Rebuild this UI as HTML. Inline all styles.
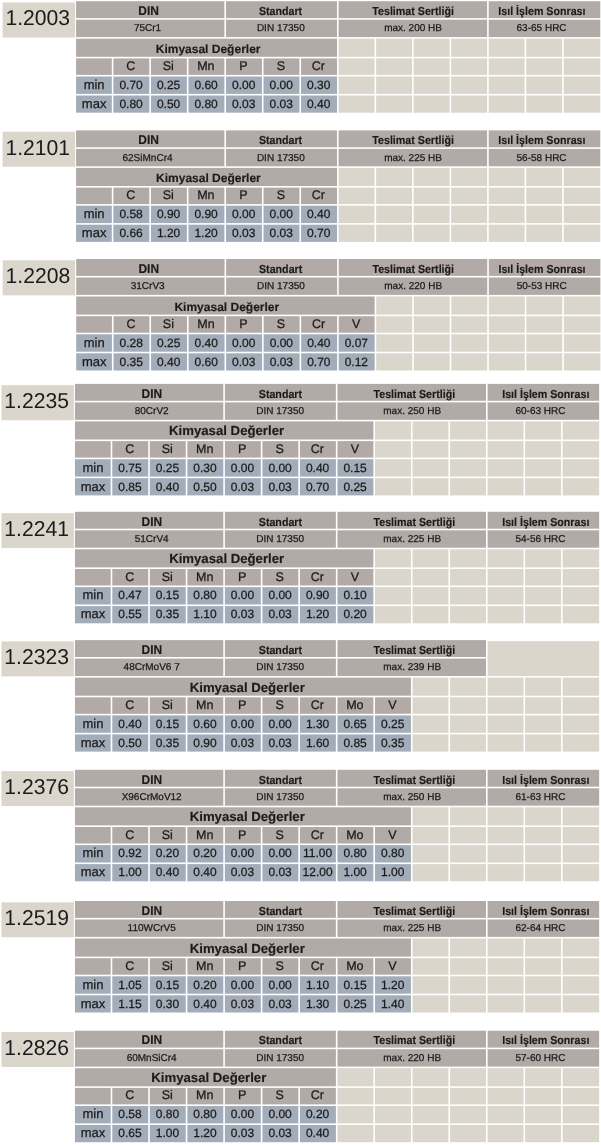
<!DOCTYPE html>
<html><head><meta charset="utf-8"><title>Çelik Tablosu</title>
<style>
html,body{margin:0;padding:0;background:#fff;width:601px;height:1145px;overflow:hidden}
svg{display:block;font-family:"Liberation Sans", sans-serif;text-rendering:geometricPrecision;will-change:transform}
text{stroke:#1c1a1a;stroke-width:0.25px}
text[font-weight=bold]{stroke-width:0.15px}
text.n{stroke-width:0.0px}
</style></head><body>
<svg width="601" height="1145" viewBox="0 0 601 1145">
<rect x="2.57" y="2.50" width="72.40" height="35.00" fill="#dad6cc"/>
<text transform="translate(37.77 25.35) scale(0.979 1)" font-size="21.6" class="n" text-anchor="middle" fill="#1c1a1a">1.2003</text>
<rect x="76.07" y="1.20" width="148.32" height="16.90" fill="#b2aaa7"/>
<rect x="76.07" y="19.70" width="148.32" height="17.40" fill="#b2aaa7"/>
<text transform="translate(148.63 14.90) scale(0.95 1)" font-size="12.6" font-weight="bold" text-anchor="middle" fill="#1c1a1a">DIN</text>
<text x="147.53" y="31.40" font-size="10" text-anchor="middle" fill="#1c1a1a">75Cr1</text>
<rect x="225.99" y="1.20" width="110.99" height="16.90" fill="#b2aaa7"/>
<rect x="225.99" y="19.70" width="110.99" height="17.40" fill="#b2aaa7"/>
<text transform="translate(280.51 14.90) scale(0.92 1)" font-size="11.6" font-weight="bold" text-anchor="middle" fill="#1c1a1a">Standart</text>
<text x="280.81" y="31.40" font-size="10" text-anchor="middle" fill="#1c1a1a">DIN 17350</text>
<rect x="338.58" y="1.20" width="148.52" height="16.90" fill="#b2aaa7"/>
<rect x="338.58" y="19.70" width="148.52" height="17.40" fill="#b2aaa7"/>
<text transform="translate(413.12 14.90) scale(0.92 1)" font-size="11.6" font-weight="bold" text-anchor="middle" fill="#1c1a1a">Teslimat Sertliği</text>
<text x="413.04" y="31.40" font-size="10" text-anchor="middle" fill="#1c1a1a">max. 200 HB</text>
<rect x="488.70" y="1.20" width="111.56" height="16.90" fill="#b2aaa7"/>
<rect x="488.70" y="19.70" width="111.56" height="17.40" fill="#b2aaa7"/>
<text transform="translate(541.88 14.90) scale(0.92 1)" font-size="11.6" font-weight="bold" text-anchor="middle" fill="#1c1a1a">Isıl İşlem Sonrası</text>
<text x="541.58" y="31.40" font-size="10" text-anchor="middle" fill="#1c1a1a">63-65 HRC</text>
<rect x="76.07" y="38.70" width="260.91" height="18.10" fill="#b2aaa7"/>
<text x="208.12" y="52.70" font-size="12" font-weight="bold" text-anchor="middle" fill="#1c1a1a">Kimyasal Değerler</text>
<rect x="76.07" y="58.40" width="35.73" height="16.50" fill="#b2aaa7"/>
<rect x="113.40" y="58.40" width="35.93" height="16.50" fill="#b2aaa7"/>
<text x="130.76" y="69.90" font-size="12.5" text-anchor="middle" fill="#1c1a1a">C</text>
<rect x="150.93" y="58.40" width="35.93" height="16.50" fill="#b2aaa7"/>
<text x="168.29" y="69.90" font-size="12.5" text-anchor="middle" fill="#1c1a1a">Si</text>
<rect x="188.46" y="58.40" width="35.93" height="16.50" fill="#b2aaa7"/>
<text x="205.83" y="69.90" font-size="12.5" text-anchor="middle" fill="#1c1a1a">Mn</text>
<rect x="225.99" y="58.40" width="35.93" height="16.50" fill="#b2aaa7"/>
<text x="243.36" y="69.90" font-size="12.5" text-anchor="middle" fill="#1c1a1a">P</text>
<rect x="263.52" y="58.40" width="35.93" height="16.50" fill="#b2aaa7"/>
<text x="280.88" y="69.90" font-size="12.5" text-anchor="middle" fill="#1c1a1a">S</text>
<rect x="301.05" y="58.40" width="35.93" height="16.50" fill="#b2aaa7"/>
<text x="318.41" y="69.90" font-size="12.5" text-anchor="middle" fill="#1c1a1a">Cr</text>
<rect x="76.07" y="76.50" width="35.73" height="17.40" fill="#a2adb9"/>
<text x="94.14" y="88.80" font-size="13" text-anchor="middle" fill="#1c1a1a">min</text>
<rect x="113.40" y="76.50" width="35.93" height="17.40" fill="#a2adb9"/>
<text x="131.06" y="88.80" font-size="12.0" text-anchor="middle" fill="#1c1a1a">0.70</text>
<rect x="150.93" y="76.50" width="35.93" height="17.40" fill="#a2adb9"/>
<text x="168.59" y="88.80" font-size="12.0" text-anchor="middle" fill="#1c1a1a">0.25</text>
<rect x="188.46" y="76.50" width="35.93" height="17.40" fill="#a2adb9"/>
<text x="206.12" y="88.80" font-size="12.0" text-anchor="middle" fill="#1c1a1a">0.60</text>
<rect x="225.99" y="76.50" width="35.93" height="17.40" fill="#a2adb9"/>
<text x="243.66" y="88.80" font-size="12.0" text-anchor="middle" fill="#1c1a1a">0.00</text>
<rect x="263.52" y="76.50" width="35.93" height="17.40" fill="#a2adb9"/>
<text x="281.19" y="88.80" font-size="12.0" text-anchor="middle" fill="#1c1a1a">0.00</text>
<rect x="301.05" y="76.50" width="35.93" height="17.40" fill="#a2adb9"/>
<text x="318.71" y="88.80" font-size="12.0" text-anchor="middle" fill="#1c1a1a">0.30</text>
<rect x="76.07" y="95.50" width="35.73" height="17.20" fill="#a2adb9"/>
<text x="94.14" y="107.80" font-size="13" text-anchor="middle" fill="#1c1a1a">max</text>
<rect x="113.40" y="95.50" width="35.93" height="17.20" fill="#a2adb9"/>
<text x="131.06" y="107.80" font-size="12.0" text-anchor="middle" fill="#1c1a1a">0.80</text>
<rect x="150.93" y="95.50" width="35.93" height="17.20" fill="#a2adb9"/>
<text x="168.59" y="107.80" font-size="12.0" text-anchor="middle" fill="#1c1a1a">0.50</text>
<rect x="188.46" y="95.50" width="35.93" height="17.20" fill="#a2adb9"/>
<text x="206.12" y="107.80" font-size="12.0" text-anchor="middle" fill="#1c1a1a">0.80</text>
<rect x="225.99" y="95.50" width="35.93" height="17.20" fill="#a2adb9"/>
<text x="243.66" y="107.80" font-size="12.0" text-anchor="middle" fill="#1c1a1a">0.03</text>
<rect x="263.52" y="95.50" width="35.93" height="17.20" fill="#a2adb9"/>
<text x="281.19" y="107.80" font-size="12.0" text-anchor="middle" fill="#1c1a1a">0.03</text>
<rect x="301.05" y="95.50" width="35.93" height="17.20" fill="#a2adb9"/>
<text x="318.71" y="107.80" font-size="12.0" text-anchor="middle" fill="#1c1a1a">0.40</text>
<rect x="338.58" y="38.70" width="35.93" height="18.10" fill="#dad6cc"/>
<rect x="376.11" y="38.70" width="35.93" height="18.10" fill="#dad6cc"/>
<rect x="413.64" y="38.70" width="35.93" height="18.10" fill="#dad6cc"/>
<rect x="451.17" y="38.70" width="35.93" height="18.10" fill="#dad6cc"/>
<rect x="488.70" y="38.70" width="35.93" height="18.10" fill="#dad6cc"/>
<rect x="526.23" y="38.70" width="35.93" height="18.10" fill="#dad6cc"/>
<rect x="563.76" y="38.70" width="36.50" height="18.10" fill="#dad6cc"/>
<rect x="338.58" y="58.40" width="35.93" height="16.50" fill="#dad6cc"/>
<rect x="376.11" y="58.40" width="35.93" height="16.50" fill="#dad6cc"/>
<rect x="413.64" y="58.40" width="35.93" height="16.50" fill="#dad6cc"/>
<rect x="451.17" y="58.40" width="35.93" height="16.50" fill="#dad6cc"/>
<rect x="488.70" y="58.40" width="35.93" height="16.50" fill="#dad6cc"/>
<rect x="526.23" y="58.40" width="35.93" height="16.50" fill="#dad6cc"/>
<rect x="563.76" y="58.40" width="36.50" height="16.50" fill="#dad6cc"/>
<rect x="338.58" y="76.50" width="35.93" height="17.40" fill="#dad6cc"/>
<rect x="376.11" y="76.50" width="35.93" height="17.40" fill="#dad6cc"/>
<rect x="413.64" y="76.50" width="35.93" height="17.40" fill="#dad6cc"/>
<rect x="451.17" y="76.50" width="35.93" height="17.40" fill="#dad6cc"/>
<rect x="488.70" y="76.50" width="35.93" height="17.40" fill="#dad6cc"/>
<rect x="526.23" y="76.50" width="35.93" height="17.40" fill="#dad6cc"/>
<rect x="563.76" y="76.50" width="36.50" height="17.40" fill="#dad6cc"/>
<rect x="338.58" y="95.50" width="35.93" height="17.20" fill="#dad6cc"/>
<rect x="376.11" y="95.50" width="35.93" height="17.20" fill="#dad6cc"/>
<rect x="413.64" y="95.50" width="35.93" height="17.20" fill="#dad6cc"/>
<rect x="451.17" y="95.50" width="35.93" height="17.20" fill="#dad6cc"/>
<rect x="488.70" y="95.50" width="35.93" height="17.20" fill="#dad6cc"/>
<rect x="526.23" y="95.50" width="35.93" height="17.20" fill="#dad6cc"/>
<rect x="563.76" y="95.50" width="36.50" height="17.20" fill="#dad6cc"/>
<rect x="2.57" y="131.70" width="72.40" height="35.00" fill="#dad6cc"/>
<text transform="translate(37.77 154.55) scale(0.979 1)" font-size="21.6" class="n" text-anchor="middle" fill="#1c1a1a">1.2101</text>
<rect x="76.07" y="130.40" width="148.32" height="16.90" fill="#b2aaa7"/>
<rect x="76.07" y="148.90" width="148.32" height="17.40" fill="#b2aaa7"/>
<text transform="translate(148.63 144.10) scale(0.95 1)" font-size="12.6" font-weight="bold" text-anchor="middle" fill="#1c1a1a">DIN</text>
<text x="147.53" y="160.60" font-size="10" text-anchor="middle" fill="#1c1a1a">62SiMnCr4</text>
<rect x="225.99" y="130.40" width="110.99" height="16.90" fill="#b2aaa7"/>
<rect x="225.99" y="148.90" width="110.99" height="17.40" fill="#b2aaa7"/>
<text transform="translate(280.51 144.10) scale(0.92 1)" font-size="11.6" font-weight="bold" text-anchor="middle" fill="#1c1a1a">Standart</text>
<text x="280.81" y="160.60" font-size="10" text-anchor="middle" fill="#1c1a1a">DIN 17350</text>
<rect x="338.58" y="130.40" width="148.52" height="16.90" fill="#b2aaa7"/>
<rect x="338.58" y="148.90" width="148.52" height="17.40" fill="#b2aaa7"/>
<text transform="translate(413.12 144.10) scale(0.92 1)" font-size="11.6" font-weight="bold" text-anchor="middle" fill="#1c1a1a">Teslimat Sertliği</text>
<text x="413.04" y="160.60" font-size="10" text-anchor="middle" fill="#1c1a1a">max. 225 HB</text>
<rect x="488.70" y="130.40" width="111.56" height="16.90" fill="#b2aaa7"/>
<rect x="488.70" y="148.90" width="111.56" height="17.40" fill="#b2aaa7"/>
<text transform="translate(541.88 144.10) scale(0.92 1)" font-size="11.6" font-weight="bold" text-anchor="middle" fill="#1c1a1a">Isıl İşlem Sonrası</text>
<text x="541.58" y="160.60" font-size="10" text-anchor="middle" fill="#1c1a1a">56-58 HRC</text>
<rect x="76.07" y="167.90" width="260.91" height="18.10" fill="#b2aaa7"/>
<text x="208.43" y="181.90" font-size="12" font-weight="bold" text-anchor="middle" fill="#1c1a1a">Kimyasal Değerler</text>
<rect x="76.07" y="187.60" width="35.73" height="16.50" fill="#b2aaa7"/>
<rect x="113.40" y="187.60" width="35.93" height="16.50" fill="#b2aaa7"/>
<text x="130.76" y="199.10" font-size="12.5" text-anchor="middle" fill="#1c1a1a">C</text>
<rect x="150.93" y="187.60" width="35.93" height="16.50" fill="#b2aaa7"/>
<text x="168.29" y="199.10" font-size="12.5" text-anchor="middle" fill="#1c1a1a">Si</text>
<rect x="188.46" y="187.60" width="35.93" height="16.50" fill="#b2aaa7"/>
<text x="205.83" y="199.10" font-size="12.5" text-anchor="middle" fill="#1c1a1a">Mn</text>
<rect x="225.99" y="187.60" width="35.93" height="16.50" fill="#b2aaa7"/>
<text x="243.36" y="199.10" font-size="12.5" text-anchor="middle" fill="#1c1a1a">P</text>
<rect x="263.52" y="187.60" width="35.93" height="16.50" fill="#b2aaa7"/>
<text x="280.88" y="199.10" font-size="12.5" text-anchor="middle" fill="#1c1a1a">S</text>
<rect x="301.05" y="187.60" width="35.93" height="16.50" fill="#b2aaa7"/>
<text x="318.41" y="199.10" font-size="12.5" text-anchor="middle" fill="#1c1a1a">Cr</text>
<rect x="76.07" y="205.70" width="35.73" height="17.40" fill="#a2adb9"/>
<text x="94.14" y="218.00" font-size="13" text-anchor="middle" fill="#1c1a1a">min</text>
<rect x="113.40" y="205.70" width="35.93" height="17.40" fill="#a2adb9"/>
<text x="131.06" y="218.00" font-size="12.0" text-anchor="middle" fill="#1c1a1a">0.58</text>
<rect x="150.93" y="205.70" width="35.93" height="17.40" fill="#a2adb9"/>
<text x="168.59" y="218.00" font-size="12.0" text-anchor="middle" fill="#1c1a1a">0.90</text>
<rect x="188.46" y="205.70" width="35.93" height="17.40" fill="#a2adb9"/>
<text x="206.12" y="218.00" font-size="12.0" text-anchor="middle" fill="#1c1a1a">0.90</text>
<rect x="225.99" y="205.70" width="35.93" height="17.40" fill="#a2adb9"/>
<text x="243.66" y="218.00" font-size="12.0" text-anchor="middle" fill="#1c1a1a">0.00</text>
<rect x="263.52" y="205.70" width="35.93" height="17.40" fill="#a2adb9"/>
<text x="281.19" y="218.00" font-size="12.0" text-anchor="middle" fill="#1c1a1a">0.00</text>
<rect x="301.05" y="205.70" width="35.93" height="17.40" fill="#a2adb9"/>
<text x="318.71" y="218.00" font-size="12.0" text-anchor="middle" fill="#1c1a1a">0.40</text>
<rect x="76.07" y="224.70" width="35.73" height="17.20" fill="#a2adb9"/>
<text x="94.14" y="237.00" font-size="13" text-anchor="middle" fill="#1c1a1a">max</text>
<rect x="113.40" y="224.70" width="35.93" height="17.20" fill="#a2adb9"/>
<text x="131.06" y="237.00" font-size="12.0" text-anchor="middle" fill="#1c1a1a">0.66</text>
<rect x="150.93" y="224.70" width="35.93" height="17.20" fill="#a2adb9"/>
<text x="168.59" y="237.00" font-size="12.0" text-anchor="middle" fill="#1c1a1a">1.20</text>
<rect x="188.46" y="224.70" width="35.93" height="17.20" fill="#a2adb9"/>
<text x="206.12" y="237.00" font-size="12.0" text-anchor="middle" fill="#1c1a1a">1.20</text>
<rect x="225.99" y="224.70" width="35.93" height="17.20" fill="#a2adb9"/>
<text x="243.66" y="237.00" font-size="12.0" text-anchor="middle" fill="#1c1a1a">0.03</text>
<rect x="263.52" y="224.70" width="35.93" height="17.20" fill="#a2adb9"/>
<text x="281.19" y="237.00" font-size="12.0" text-anchor="middle" fill="#1c1a1a">0.03</text>
<rect x="301.05" y="224.70" width="35.93" height="17.20" fill="#a2adb9"/>
<text x="318.71" y="237.00" font-size="12.0" text-anchor="middle" fill="#1c1a1a">0.70</text>
<rect x="338.58" y="167.90" width="35.93" height="18.10" fill="#dad6cc"/>
<rect x="376.11" y="167.90" width="35.93" height="18.10" fill="#dad6cc"/>
<rect x="413.64" y="167.90" width="35.93" height="18.10" fill="#dad6cc"/>
<rect x="451.17" y="167.90" width="35.93" height="18.10" fill="#dad6cc"/>
<rect x="488.70" y="167.90" width="35.93" height="18.10" fill="#dad6cc"/>
<rect x="526.23" y="167.90" width="35.93" height="18.10" fill="#dad6cc"/>
<rect x="563.76" y="167.90" width="36.50" height="18.10" fill="#dad6cc"/>
<rect x="338.58" y="187.60" width="35.93" height="16.50" fill="#dad6cc"/>
<rect x="376.11" y="187.60" width="35.93" height="16.50" fill="#dad6cc"/>
<rect x="413.64" y="187.60" width="35.93" height="16.50" fill="#dad6cc"/>
<rect x="451.17" y="187.60" width="35.93" height="16.50" fill="#dad6cc"/>
<rect x="488.70" y="187.60" width="35.93" height="16.50" fill="#dad6cc"/>
<rect x="526.23" y="187.60" width="35.93" height="16.50" fill="#dad6cc"/>
<rect x="563.76" y="187.60" width="36.50" height="16.50" fill="#dad6cc"/>
<rect x="338.58" y="205.70" width="35.93" height="17.40" fill="#dad6cc"/>
<rect x="376.11" y="205.70" width="35.93" height="17.40" fill="#dad6cc"/>
<rect x="413.64" y="205.70" width="35.93" height="17.40" fill="#dad6cc"/>
<rect x="451.17" y="205.70" width="35.93" height="17.40" fill="#dad6cc"/>
<rect x="488.70" y="205.70" width="35.93" height="17.40" fill="#dad6cc"/>
<rect x="526.23" y="205.70" width="35.93" height="17.40" fill="#dad6cc"/>
<rect x="563.76" y="205.70" width="36.50" height="17.40" fill="#dad6cc"/>
<rect x="338.58" y="224.70" width="35.93" height="17.20" fill="#dad6cc"/>
<rect x="376.11" y="224.70" width="35.93" height="17.20" fill="#dad6cc"/>
<rect x="413.64" y="224.70" width="35.93" height="17.20" fill="#dad6cc"/>
<rect x="451.17" y="224.70" width="35.93" height="17.20" fill="#dad6cc"/>
<rect x="488.70" y="224.70" width="35.93" height="17.20" fill="#dad6cc"/>
<rect x="526.23" y="224.70" width="35.93" height="17.20" fill="#dad6cc"/>
<rect x="563.76" y="224.70" width="36.50" height="17.20" fill="#dad6cc"/>
<rect x="2.70" y="260.30" width="72.40" height="35.00" fill="#dad6cc"/>
<text transform="translate(37.90 283.15) scale(0.979 1)" font-size="21.6" class="n" text-anchor="middle" fill="#1c1a1a">1.2208</text>
<rect x="76.20" y="259.00" width="148.32" height="16.90" fill="#b2aaa7"/>
<rect x="76.20" y="277.50" width="148.32" height="17.40" fill="#b2aaa7"/>
<text transform="translate(148.76 272.70) scale(0.95 1)" font-size="12.6" font-weight="bold" text-anchor="middle" fill="#1c1a1a">DIN</text>
<text x="147.66" y="289.20" font-size="10" text-anchor="middle" fill="#1c1a1a">31CrV3</text>
<rect x="226.12" y="259.00" width="110.99" height="16.90" fill="#b2aaa7"/>
<rect x="226.12" y="277.50" width="110.99" height="17.40" fill="#b2aaa7"/>
<text transform="translate(280.64 272.70) scale(0.92 1)" font-size="11.6" font-weight="bold" text-anchor="middle" fill="#1c1a1a">Standart</text>
<text x="280.94" y="289.20" font-size="10" text-anchor="middle" fill="#1c1a1a">DIN 17350</text>
<rect x="338.71" y="259.00" width="148.52" height="16.90" fill="#b2aaa7"/>
<rect x="338.71" y="277.50" width="148.52" height="17.40" fill="#b2aaa7"/>
<text transform="translate(413.25 272.70) scale(0.92 1)" font-size="11.6" font-weight="bold" text-anchor="middle" fill="#1c1a1a">Teslimat Sertliği</text>
<text x="413.17" y="289.20" font-size="10" text-anchor="middle" fill="#1c1a1a">max. 220 HB</text>
<rect x="488.83" y="259.00" width="111.56" height="16.90" fill="#b2aaa7"/>
<rect x="488.83" y="277.50" width="111.56" height="17.40" fill="#b2aaa7"/>
<text transform="translate(542.01 272.70) scale(0.92 1)" font-size="11.6" font-weight="bold" text-anchor="middle" fill="#1c1a1a">Isıl İşlem Sonrası</text>
<text x="541.71" y="289.20" font-size="10" text-anchor="middle" fill="#1c1a1a">50-53 HRC</text>
<rect x="76.20" y="296.50" width="298.44" height="18.10" fill="#b2aaa7"/>
<text x="226.82" y="310.50" font-size="12" font-weight="bold" text-anchor="middle" fill="#1c1a1a">Kimyasal Değerler</text>
<rect x="76.20" y="316.20" width="35.73" height="16.50" fill="#b2aaa7"/>
<rect x="113.53" y="316.20" width="35.93" height="16.50" fill="#b2aaa7"/>
<text x="130.90" y="327.70" font-size="12.5" text-anchor="middle" fill="#1c1a1a">C</text>
<rect x="151.06" y="316.20" width="35.93" height="16.50" fill="#b2aaa7"/>
<text x="168.43" y="327.70" font-size="12.5" text-anchor="middle" fill="#1c1a1a">Si</text>
<rect x="188.59" y="316.20" width="35.93" height="16.50" fill="#b2aaa7"/>
<text x="205.96" y="327.70" font-size="12.5" text-anchor="middle" fill="#1c1a1a">Mn</text>
<rect x="226.12" y="316.20" width="35.93" height="16.50" fill="#b2aaa7"/>
<text x="243.49" y="327.70" font-size="12.5" text-anchor="middle" fill="#1c1a1a">P</text>
<rect x="263.65" y="316.20" width="35.93" height="16.50" fill="#b2aaa7"/>
<text x="281.01" y="327.70" font-size="12.5" text-anchor="middle" fill="#1c1a1a">S</text>
<rect x="301.18" y="316.20" width="35.93" height="16.50" fill="#b2aaa7"/>
<text x="318.54" y="327.70" font-size="12.5" text-anchor="middle" fill="#1c1a1a">Cr</text>
<rect x="338.71" y="316.20" width="35.93" height="16.50" fill="#b2aaa7"/>
<text x="356.07" y="327.70" font-size="12.5" text-anchor="middle" fill="#1c1a1a">V</text>
<rect x="76.20" y="334.30" width="35.73" height="17.40" fill="#a2adb9"/>
<text x="94.27" y="346.60" font-size="13" text-anchor="middle" fill="#1c1a1a">min</text>
<rect x="113.53" y="334.30" width="35.93" height="17.40" fill="#a2adb9"/>
<text x="131.19" y="346.60" font-size="12.0" text-anchor="middle" fill="#1c1a1a">0.28</text>
<rect x="151.06" y="334.30" width="35.93" height="17.40" fill="#a2adb9"/>
<text x="168.72" y="346.60" font-size="12.0" text-anchor="middle" fill="#1c1a1a">0.25</text>
<rect x="188.59" y="334.30" width="35.93" height="17.40" fill="#a2adb9"/>
<text x="206.25" y="346.60" font-size="12.0" text-anchor="middle" fill="#1c1a1a">0.40</text>
<rect x="226.12" y="334.30" width="35.93" height="17.40" fill="#a2adb9"/>
<text x="243.78" y="346.60" font-size="12.0" text-anchor="middle" fill="#1c1a1a">0.00</text>
<rect x="263.65" y="334.30" width="35.93" height="17.40" fill="#a2adb9"/>
<text x="281.31" y="346.60" font-size="12.0" text-anchor="middle" fill="#1c1a1a">0.00</text>
<rect x="301.18" y="334.30" width="35.93" height="17.40" fill="#a2adb9"/>
<text x="318.84" y="346.60" font-size="12.0" text-anchor="middle" fill="#1c1a1a">0.40</text>
<rect x="338.71" y="334.30" width="35.93" height="17.40" fill="#a2adb9"/>
<text x="356.38" y="346.60" font-size="12.0" text-anchor="middle" fill="#1c1a1a">0.07</text>
<rect x="76.20" y="353.30" width="35.73" height="17.20" fill="#a2adb9"/>
<text x="94.27" y="365.60" font-size="13" text-anchor="middle" fill="#1c1a1a">max</text>
<rect x="113.53" y="353.30" width="35.93" height="17.20" fill="#a2adb9"/>
<text x="131.19" y="365.60" font-size="12.0" text-anchor="middle" fill="#1c1a1a">0.35</text>
<rect x="151.06" y="353.30" width="35.93" height="17.20" fill="#a2adb9"/>
<text x="168.72" y="365.60" font-size="12.0" text-anchor="middle" fill="#1c1a1a">0.40</text>
<rect x="188.59" y="353.30" width="35.93" height="17.20" fill="#a2adb9"/>
<text x="206.25" y="365.60" font-size="12.0" text-anchor="middle" fill="#1c1a1a">0.60</text>
<rect x="226.12" y="353.30" width="35.93" height="17.20" fill="#a2adb9"/>
<text x="243.78" y="365.60" font-size="12.0" text-anchor="middle" fill="#1c1a1a">0.03</text>
<rect x="263.65" y="353.30" width="35.93" height="17.20" fill="#a2adb9"/>
<text x="281.31" y="365.60" font-size="12.0" text-anchor="middle" fill="#1c1a1a">0.03</text>
<rect x="301.18" y="353.30" width="35.93" height="17.20" fill="#a2adb9"/>
<text x="318.84" y="365.60" font-size="12.0" text-anchor="middle" fill="#1c1a1a">0.70</text>
<rect x="338.71" y="353.30" width="35.93" height="17.20" fill="#a2adb9"/>
<text x="356.38" y="365.60" font-size="12.0" text-anchor="middle" fill="#1c1a1a">0.12</text>
<rect x="376.24" y="296.50" width="35.93" height="18.10" fill="#dad6cc"/>
<rect x="413.77" y="296.50" width="35.93" height="18.10" fill="#dad6cc"/>
<rect x="451.30" y="296.50" width="35.93" height="18.10" fill="#dad6cc"/>
<rect x="488.83" y="296.50" width="35.93" height="18.10" fill="#dad6cc"/>
<rect x="526.36" y="296.50" width="35.93" height="18.10" fill="#dad6cc"/>
<rect x="563.89" y="296.50" width="36.50" height="18.10" fill="#dad6cc"/>
<rect x="376.24" y="316.20" width="35.93" height="16.50" fill="#dad6cc"/>
<rect x="413.77" y="316.20" width="35.93" height="16.50" fill="#dad6cc"/>
<rect x="451.30" y="316.20" width="35.93" height="16.50" fill="#dad6cc"/>
<rect x="488.83" y="316.20" width="35.93" height="16.50" fill="#dad6cc"/>
<rect x="526.36" y="316.20" width="35.93" height="16.50" fill="#dad6cc"/>
<rect x="563.89" y="316.20" width="36.50" height="16.50" fill="#dad6cc"/>
<rect x="376.24" y="334.30" width="35.93" height="17.40" fill="#dad6cc"/>
<rect x="413.77" y="334.30" width="35.93" height="17.40" fill="#dad6cc"/>
<rect x="451.30" y="334.30" width="35.93" height="17.40" fill="#dad6cc"/>
<rect x="488.83" y="334.30" width="35.93" height="17.40" fill="#dad6cc"/>
<rect x="526.36" y="334.30" width="35.93" height="17.40" fill="#dad6cc"/>
<rect x="563.89" y="334.30" width="36.50" height="17.40" fill="#dad6cc"/>
<rect x="376.24" y="353.30" width="35.93" height="17.20" fill="#dad6cc"/>
<rect x="413.77" y="353.30" width="35.93" height="17.20" fill="#dad6cc"/>
<rect x="451.30" y="353.30" width="35.93" height="17.20" fill="#dad6cc"/>
<rect x="488.83" y="353.30" width="35.93" height="17.20" fill="#dad6cc"/>
<rect x="526.36" y="353.30" width="35.93" height="17.20" fill="#dad6cc"/>
<rect x="563.89" y="353.30" width="36.50" height="17.20" fill="#dad6cc"/>
<rect x="1.46" y="385.20" width="72.40" height="35.00" fill="#dad6cc"/>
<text transform="translate(36.66 408.05) scale(0.979 1)" font-size="21.6" class="n" text-anchor="middle" fill="#1c1a1a">1.2235</text>
<rect x="74.96" y="383.90" width="148.32" height="16.90" fill="#b2aaa7"/>
<rect x="74.96" y="402.40" width="148.32" height="17.40" fill="#b2aaa7"/>
<text transform="translate(151.92 397.60) scale(0.95 1)" font-size="12.6" font-weight="bold" text-anchor="middle" fill="#1c1a1a">DIN</text>
<text x="151.67" y="414.10" font-size="10" text-anchor="middle" fill="#1c1a1a">80CrV2</text>
<rect x="224.88" y="383.90" width="110.99" height="16.90" fill="#b2aaa7"/>
<rect x="224.88" y="402.40" width="110.99" height="17.40" fill="#b2aaa7"/>
<text transform="translate(280.40 397.60) scale(0.92 1)" font-size="11.6" font-weight="bold" text-anchor="middle" fill="#1c1a1a">Standart</text>
<text x="280.11" y="414.10" font-size="10" text-anchor="middle" fill="#1c1a1a">DIN 17350</text>
<rect x="337.47" y="383.90" width="148.52" height="16.90" fill="#b2aaa7"/>
<rect x="337.47" y="402.40" width="148.52" height="17.40" fill="#b2aaa7"/>
<text transform="translate(414.31 397.60) scale(0.92 1)" font-size="11.6" font-weight="bold" text-anchor="middle" fill="#1c1a1a">Teslimat Sertliği</text>
<text x="412.18" y="414.10" font-size="10" text-anchor="middle" fill="#1c1a1a">max. 250 HB</text>
<rect x="487.59" y="383.90" width="111.56" height="16.90" fill="#b2aaa7"/>
<rect x="487.59" y="402.40" width="111.56" height="17.40" fill="#b2aaa7"/>
<text transform="translate(545.77 397.60) scale(0.92 1)" font-size="11.6" font-weight="bold" text-anchor="middle" fill="#1c1a1a">Isıl İşlem Sonrası</text>
<text x="540.47" y="414.10" font-size="10" text-anchor="middle" fill="#1c1a1a">60-63 HRC</text>
<rect x="74.96" y="421.40" width="298.44" height="18.10" fill="#b2aaa7"/>
<text x="226.58" y="435.40" font-size="13.2" font-weight="bold" text-anchor="middle" fill="#1c1a1a">Kimyasal Değerler</text>
<rect x="74.96" y="441.10" width="35.73" height="16.50" fill="#b2aaa7"/>
<rect x="112.29" y="441.10" width="35.93" height="16.50" fill="#b2aaa7"/>
<text x="129.66" y="452.60" font-size="12.5" text-anchor="middle" fill="#1c1a1a">C</text>
<rect x="149.82" y="441.10" width="35.93" height="16.50" fill="#b2aaa7"/>
<text x="167.19" y="452.60" font-size="12.5" text-anchor="middle" fill="#1c1a1a">Si</text>
<rect x="187.35" y="441.10" width="35.93" height="16.50" fill="#b2aaa7"/>
<text x="204.72" y="452.60" font-size="12.5" text-anchor="middle" fill="#1c1a1a">Mn</text>
<rect x="224.88" y="441.10" width="35.93" height="16.50" fill="#b2aaa7"/>
<text x="242.25" y="452.60" font-size="12.5" text-anchor="middle" fill="#1c1a1a">P</text>
<rect x="262.41" y="441.10" width="35.93" height="16.50" fill="#b2aaa7"/>
<text x="279.77" y="452.60" font-size="12.5" text-anchor="middle" fill="#1c1a1a">S</text>
<rect x="299.94" y="441.10" width="35.93" height="16.50" fill="#b2aaa7"/>
<text x="317.30" y="452.60" font-size="12.5" text-anchor="middle" fill="#1c1a1a">Cr</text>
<rect x="337.47" y="441.10" width="35.93" height="16.50" fill="#b2aaa7"/>
<text x="354.83" y="452.60" font-size="12.5" text-anchor="middle" fill="#1c1a1a">V</text>
<rect x="74.96" y="459.20" width="35.73" height="17.40" fill="#a2adb9"/>
<text x="93.02" y="471.50" font-size="13" text-anchor="middle" fill="#1c1a1a">min</text>
<rect x="112.29" y="459.20" width="35.93" height="17.40" fill="#a2adb9"/>
<text x="129.95" y="471.50" font-size="12.0" text-anchor="middle" fill="#1c1a1a">0.75</text>
<rect x="149.82" y="459.20" width="35.93" height="17.40" fill="#a2adb9"/>
<text x="167.48" y="471.50" font-size="12.0" text-anchor="middle" fill="#1c1a1a">0.25</text>
<rect x="187.35" y="459.20" width="35.93" height="17.40" fill="#a2adb9"/>
<text x="205.01" y="471.50" font-size="12.0" text-anchor="middle" fill="#1c1a1a">0.30</text>
<rect x="224.88" y="459.20" width="35.93" height="17.40" fill="#a2adb9"/>
<text x="242.54" y="471.50" font-size="12.0" text-anchor="middle" fill="#1c1a1a">0.00</text>
<rect x="262.41" y="459.20" width="35.93" height="17.40" fill="#a2adb9"/>
<text x="280.07" y="471.50" font-size="12.0" text-anchor="middle" fill="#1c1a1a">0.00</text>
<rect x="299.94" y="459.20" width="35.93" height="17.40" fill="#a2adb9"/>
<text x="317.60" y="471.50" font-size="12.0" text-anchor="middle" fill="#1c1a1a">0.40</text>
<rect x="337.47" y="459.20" width="35.93" height="17.40" fill="#a2adb9"/>
<text x="355.13" y="471.50" font-size="12.0" text-anchor="middle" fill="#1c1a1a">0.15</text>
<rect x="74.96" y="478.20" width="35.73" height="17.20" fill="#a2adb9"/>
<text x="93.02" y="490.50" font-size="13" text-anchor="middle" fill="#1c1a1a">max</text>
<rect x="112.29" y="478.20" width="35.93" height="17.20" fill="#a2adb9"/>
<text x="129.95" y="490.50" font-size="12.0" text-anchor="middle" fill="#1c1a1a">0.85</text>
<rect x="149.82" y="478.20" width="35.93" height="17.20" fill="#a2adb9"/>
<text x="167.48" y="490.50" font-size="12.0" text-anchor="middle" fill="#1c1a1a">0.40</text>
<rect x="187.35" y="478.20" width="35.93" height="17.20" fill="#a2adb9"/>
<text x="205.01" y="490.50" font-size="12.0" text-anchor="middle" fill="#1c1a1a">0.50</text>
<rect x="224.88" y="478.20" width="35.93" height="17.20" fill="#a2adb9"/>
<text x="242.54" y="490.50" font-size="12.0" text-anchor="middle" fill="#1c1a1a">0.03</text>
<rect x="262.41" y="478.20" width="35.93" height="17.20" fill="#a2adb9"/>
<text x="280.07" y="490.50" font-size="12.0" text-anchor="middle" fill="#1c1a1a">0.03</text>
<rect x="299.94" y="478.20" width="35.93" height="17.20" fill="#a2adb9"/>
<text x="317.60" y="490.50" font-size="12.0" text-anchor="middle" fill="#1c1a1a">0.70</text>
<rect x="337.47" y="478.20" width="35.93" height="17.20" fill="#a2adb9"/>
<text x="355.13" y="490.50" font-size="12.0" text-anchor="middle" fill="#1c1a1a">0.25</text>
<rect x="375.00" y="421.40" width="35.93" height="18.10" fill="#dad6cc"/>
<rect x="412.53" y="421.40" width="35.93" height="18.10" fill="#dad6cc"/>
<rect x="450.06" y="421.40" width="35.93" height="18.10" fill="#dad6cc"/>
<rect x="487.59" y="421.40" width="35.93" height="18.10" fill="#dad6cc"/>
<rect x="525.12" y="421.40" width="35.93" height="18.10" fill="#dad6cc"/>
<rect x="562.65" y="421.40" width="36.50" height="18.10" fill="#dad6cc"/>
<rect x="375.00" y="441.10" width="35.93" height="16.50" fill="#dad6cc"/>
<rect x="412.53" y="441.10" width="35.93" height="16.50" fill="#dad6cc"/>
<rect x="450.06" y="441.10" width="35.93" height="16.50" fill="#dad6cc"/>
<rect x="487.59" y="441.10" width="35.93" height="16.50" fill="#dad6cc"/>
<rect x="525.12" y="441.10" width="35.93" height="16.50" fill="#dad6cc"/>
<rect x="562.65" y="441.10" width="36.50" height="16.50" fill="#dad6cc"/>
<rect x="375.00" y="459.20" width="35.93" height="17.40" fill="#dad6cc"/>
<rect x="412.53" y="459.20" width="35.93" height="17.40" fill="#dad6cc"/>
<rect x="450.06" y="459.20" width="35.93" height="17.40" fill="#dad6cc"/>
<rect x="487.59" y="459.20" width="35.93" height="17.40" fill="#dad6cc"/>
<rect x="525.12" y="459.20" width="35.93" height="17.40" fill="#dad6cc"/>
<rect x="562.65" y="459.20" width="36.50" height="17.40" fill="#dad6cc"/>
<rect x="375.00" y="478.20" width="35.93" height="17.20" fill="#dad6cc"/>
<rect x="412.53" y="478.20" width="35.93" height="17.20" fill="#dad6cc"/>
<rect x="450.06" y="478.20" width="35.93" height="17.20" fill="#dad6cc"/>
<rect x="487.59" y="478.20" width="35.93" height="17.20" fill="#dad6cc"/>
<rect x="525.12" y="478.20" width="35.93" height="17.20" fill="#dad6cc"/>
<rect x="562.65" y="478.20" width="36.50" height="17.20" fill="#dad6cc"/>
<rect x="1.46" y="513.10" width="72.40" height="35.00" fill="#dad6cc"/>
<text transform="translate(36.66 535.95) scale(0.979 1)" font-size="21.6" class="n" text-anchor="middle" fill="#1c1a1a">1.2241</text>
<rect x="74.96" y="511.80" width="148.32" height="16.90" fill="#b2aaa7"/>
<rect x="74.96" y="530.30" width="148.32" height="17.40" fill="#b2aaa7"/>
<text transform="translate(151.92 525.50) scale(0.95 1)" font-size="12.6" font-weight="bold" text-anchor="middle" fill="#1c1a1a">DIN</text>
<text x="151.67" y="542.00" font-size="10" text-anchor="middle" fill="#1c1a1a">51CrV4</text>
<rect x="224.88" y="511.80" width="110.99" height="16.90" fill="#b2aaa7"/>
<rect x="224.88" y="530.30" width="110.99" height="17.40" fill="#b2aaa7"/>
<text transform="translate(280.40 525.50) scale(0.92 1)" font-size="11.6" font-weight="bold" text-anchor="middle" fill="#1c1a1a">Standart</text>
<text x="280.11" y="542.00" font-size="10" text-anchor="middle" fill="#1c1a1a">DIN 17350</text>
<rect x="337.47" y="511.80" width="148.52" height="16.90" fill="#b2aaa7"/>
<rect x="337.47" y="530.30" width="148.52" height="17.40" fill="#b2aaa7"/>
<text transform="translate(414.31 525.50) scale(0.92 1)" font-size="11.6" font-weight="bold" text-anchor="middle" fill="#1c1a1a">Teslimat Sertliği</text>
<text x="412.18" y="542.00" font-size="10" text-anchor="middle" fill="#1c1a1a">max. 225 HB</text>
<rect x="487.59" y="511.80" width="111.56" height="16.90" fill="#b2aaa7"/>
<rect x="487.59" y="530.30" width="111.56" height="17.40" fill="#b2aaa7"/>
<text transform="translate(545.77 525.50) scale(0.92 1)" font-size="11.6" font-weight="bold" text-anchor="middle" fill="#1c1a1a">Isıl İşlem Sonrası</text>
<text x="540.47" y="542.00" font-size="10" text-anchor="middle" fill="#1c1a1a">54-56 HRC</text>
<rect x="74.96" y="549.30" width="298.44" height="18.10" fill="#b2aaa7"/>
<text x="226.68" y="563.30" font-size="13.2" font-weight="bold" text-anchor="middle" fill="#1c1a1a">Kimyasal Değerler</text>
<rect x="74.96" y="569.00" width="35.73" height="16.50" fill="#b2aaa7"/>
<rect x="112.29" y="569.00" width="35.93" height="16.50" fill="#b2aaa7"/>
<text x="129.66" y="580.50" font-size="12.5" text-anchor="middle" fill="#1c1a1a">C</text>
<rect x="149.82" y="569.00" width="35.93" height="16.50" fill="#b2aaa7"/>
<text x="167.19" y="580.50" font-size="12.5" text-anchor="middle" fill="#1c1a1a">Si</text>
<rect x="187.35" y="569.00" width="35.93" height="16.50" fill="#b2aaa7"/>
<text x="204.72" y="580.50" font-size="12.5" text-anchor="middle" fill="#1c1a1a">Mn</text>
<rect x="224.88" y="569.00" width="35.93" height="16.50" fill="#b2aaa7"/>
<text x="242.25" y="580.50" font-size="12.5" text-anchor="middle" fill="#1c1a1a">P</text>
<rect x="262.41" y="569.00" width="35.93" height="16.50" fill="#b2aaa7"/>
<text x="279.77" y="580.50" font-size="12.5" text-anchor="middle" fill="#1c1a1a">S</text>
<rect x="299.94" y="569.00" width="35.93" height="16.50" fill="#b2aaa7"/>
<text x="317.30" y="580.50" font-size="12.5" text-anchor="middle" fill="#1c1a1a">Cr</text>
<rect x="337.47" y="569.00" width="35.93" height="16.50" fill="#b2aaa7"/>
<text x="354.83" y="580.50" font-size="12.5" text-anchor="middle" fill="#1c1a1a">V</text>
<rect x="74.96" y="587.10" width="35.73" height="17.40" fill="#a2adb9"/>
<text x="93.02" y="599.40" font-size="13" text-anchor="middle" fill="#1c1a1a">min</text>
<rect x="112.29" y="587.10" width="35.93" height="17.40" fill="#a2adb9"/>
<text x="129.95" y="599.40" font-size="12.0" text-anchor="middle" fill="#1c1a1a">0.47</text>
<rect x="149.82" y="587.10" width="35.93" height="17.40" fill="#a2adb9"/>
<text x="167.48" y="599.40" font-size="12.0" text-anchor="middle" fill="#1c1a1a">0.15</text>
<rect x="187.35" y="587.10" width="35.93" height="17.40" fill="#a2adb9"/>
<text x="205.01" y="599.40" font-size="12.0" text-anchor="middle" fill="#1c1a1a">0.80</text>
<rect x="224.88" y="587.10" width="35.93" height="17.40" fill="#a2adb9"/>
<text x="242.54" y="599.40" font-size="12.0" text-anchor="middle" fill="#1c1a1a">0.00</text>
<rect x="262.41" y="587.10" width="35.93" height="17.40" fill="#a2adb9"/>
<text x="280.07" y="599.40" font-size="12.0" text-anchor="middle" fill="#1c1a1a">0.00</text>
<rect x="299.94" y="587.10" width="35.93" height="17.40" fill="#a2adb9"/>
<text x="317.60" y="599.40" font-size="12.0" text-anchor="middle" fill="#1c1a1a">0.90</text>
<rect x="337.47" y="587.10" width="35.93" height="17.40" fill="#a2adb9"/>
<text x="355.13" y="599.40" font-size="12.0" text-anchor="middle" fill="#1c1a1a">0.10</text>
<rect x="74.96" y="606.10" width="35.73" height="17.20" fill="#a2adb9"/>
<text x="93.02" y="618.40" font-size="13" text-anchor="middle" fill="#1c1a1a">max</text>
<rect x="112.29" y="606.10" width="35.93" height="17.20" fill="#a2adb9"/>
<text x="129.95" y="618.40" font-size="12.0" text-anchor="middle" fill="#1c1a1a">0.55</text>
<rect x="149.82" y="606.10" width="35.93" height="17.20" fill="#a2adb9"/>
<text x="167.48" y="618.40" font-size="12.0" text-anchor="middle" fill="#1c1a1a">0.35</text>
<rect x="187.35" y="606.10" width="35.93" height="17.20" fill="#a2adb9"/>
<text x="205.01" y="618.40" font-size="12.0" text-anchor="middle" fill="#1c1a1a">1.10</text>
<rect x="224.88" y="606.10" width="35.93" height="17.20" fill="#a2adb9"/>
<text x="242.54" y="618.40" font-size="12.0" text-anchor="middle" fill="#1c1a1a">0.03</text>
<rect x="262.41" y="606.10" width="35.93" height="17.20" fill="#a2adb9"/>
<text x="280.07" y="618.40" font-size="12.0" text-anchor="middle" fill="#1c1a1a">0.03</text>
<rect x="299.94" y="606.10" width="35.93" height="17.20" fill="#a2adb9"/>
<text x="317.60" y="618.40" font-size="12.0" text-anchor="middle" fill="#1c1a1a">1.20</text>
<rect x="337.47" y="606.10" width="35.93" height="17.20" fill="#a2adb9"/>
<text x="355.13" y="618.40" font-size="12.0" text-anchor="middle" fill="#1c1a1a">0.20</text>
<rect x="375.00" y="549.30" width="35.93" height="18.10" fill="#dad6cc"/>
<rect x="412.53" y="549.30" width="35.93" height="18.10" fill="#dad6cc"/>
<rect x="450.06" y="549.30" width="35.93" height="18.10" fill="#dad6cc"/>
<rect x="487.59" y="549.30" width="35.93" height="18.10" fill="#dad6cc"/>
<rect x="525.12" y="549.30" width="35.93" height="18.10" fill="#dad6cc"/>
<rect x="562.65" y="549.30" width="36.50" height="18.10" fill="#dad6cc"/>
<rect x="375.00" y="569.00" width="35.93" height="16.50" fill="#dad6cc"/>
<rect x="412.53" y="569.00" width="35.93" height="16.50" fill="#dad6cc"/>
<rect x="450.06" y="569.00" width="35.93" height="16.50" fill="#dad6cc"/>
<rect x="487.59" y="569.00" width="35.93" height="16.50" fill="#dad6cc"/>
<rect x="525.12" y="569.00" width="35.93" height="16.50" fill="#dad6cc"/>
<rect x="562.65" y="569.00" width="36.50" height="16.50" fill="#dad6cc"/>
<rect x="375.00" y="587.10" width="35.93" height="17.40" fill="#dad6cc"/>
<rect x="412.53" y="587.10" width="35.93" height="17.40" fill="#dad6cc"/>
<rect x="450.06" y="587.10" width="35.93" height="17.40" fill="#dad6cc"/>
<rect x="487.59" y="587.10" width="35.93" height="17.40" fill="#dad6cc"/>
<rect x="525.12" y="587.10" width="35.93" height="17.40" fill="#dad6cc"/>
<rect x="562.65" y="587.10" width="36.50" height="17.40" fill="#dad6cc"/>
<rect x="375.00" y="606.10" width="35.93" height="17.20" fill="#dad6cc"/>
<rect x="412.53" y="606.10" width="35.93" height="17.20" fill="#dad6cc"/>
<rect x="450.06" y="606.10" width="35.93" height="17.20" fill="#dad6cc"/>
<rect x="487.59" y="606.10" width="35.93" height="17.20" fill="#dad6cc"/>
<rect x="525.12" y="606.10" width="35.93" height="17.20" fill="#dad6cc"/>
<rect x="562.65" y="606.10" width="36.50" height="17.20" fill="#dad6cc"/>
<rect x="1.46" y="641.40" width="72.40" height="35.00" fill="#dad6cc"/>
<text transform="translate(36.66 664.25) scale(0.979 1)" font-size="21.6" class="n" text-anchor="middle" fill="#1c1a1a">1.2323</text>
<rect x="74.96" y="640.10" width="148.32" height="16.90" fill="#b2aaa7"/>
<rect x="74.96" y="658.60" width="148.32" height="17.40" fill="#b2aaa7"/>
<text transform="translate(151.92 653.80) scale(0.95 1)" font-size="12.6" font-weight="bold" text-anchor="middle" fill="#1c1a1a">DIN</text>
<text x="151.67" y="670.30" font-size="10" text-anchor="middle" fill="#1c1a1a">48CrMoV6 7</text>
<rect x="224.88" y="640.10" width="110.99" height="16.90" fill="#b2aaa7"/>
<rect x="224.88" y="658.60" width="110.99" height="17.40" fill="#b2aaa7"/>
<text transform="translate(280.40 653.80) scale(0.92 1)" font-size="11.6" font-weight="bold" text-anchor="middle" fill="#1c1a1a">Standart</text>
<text x="280.11" y="670.30" font-size="10" text-anchor="middle" fill="#1c1a1a">DIN 17350</text>
<rect x="337.47" y="640.10" width="148.52" height="16.90" fill="#b2aaa7"/>
<rect x="337.47" y="658.60" width="148.52" height="17.40" fill="#b2aaa7"/>
<text transform="translate(414.31 653.80) scale(0.92 1)" font-size="11.6" font-weight="bold" text-anchor="middle" fill="#1c1a1a">Teslimat Sertliği</text>
<text x="412.18" y="670.30" font-size="10" text-anchor="middle" fill="#1c1a1a">max. 239 HB</text>
<rect x="487.59" y="641.10" width="111.56" height="34.90" fill="#dad6cc"/>
<rect x="74.96" y="677.60" width="335.97" height="18.10" fill="#b2aaa7"/>
<text x="247.24" y="691.60" font-size="13.2" font-weight="bold" text-anchor="middle" fill="#1c1a1a">Kimyasal Değerler</text>
<rect x="74.96" y="697.30" width="35.73" height="16.50" fill="#b2aaa7"/>
<rect x="112.29" y="697.30" width="35.93" height="16.50" fill="#b2aaa7"/>
<text x="129.66" y="708.80" font-size="12.5" text-anchor="middle" fill="#1c1a1a">C</text>
<rect x="149.82" y="697.30" width="35.93" height="16.50" fill="#b2aaa7"/>
<text x="167.19" y="708.80" font-size="12.5" text-anchor="middle" fill="#1c1a1a">Si</text>
<rect x="187.35" y="697.30" width="35.93" height="16.50" fill="#b2aaa7"/>
<text x="204.72" y="708.80" font-size="12.5" text-anchor="middle" fill="#1c1a1a">Mn</text>
<rect x="224.88" y="697.30" width="35.93" height="16.50" fill="#b2aaa7"/>
<text x="242.25" y="708.80" font-size="12.5" text-anchor="middle" fill="#1c1a1a">P</text>
<rect x="262.41" y="697.30" width="35.93" height="16.50" fill="#b2aaa7"/>
<text x="279.77" y="708.80" font-size="12.5" text-anchor="middle" fill="#1c1a1a">S</text>
<rect x="299.94" y="697.30" width="35.93" height="16.50" fill="#b2aaa7"/>
<text x="317.30" y="708.80" font-size="12.5" text-anchor="middle" fill="#1c1a1a">Cr</text>
<rect x="337.47" y="697.30" width="35.93" height="16.50" fill="#b2aaa7"/>
<text x="354.83" y="708.80" font-size="12.5" text-anchor="middle" fill="#1c1a1a">Mo</text>
<rect x="375.00" y="697.30" width="35.93" height="16.50" fill="#b2aaa7"/>
<text x="392.36" y="708.80" font-size="12.5" text-anchor="middle" fill="#1c1a1a">V</text>
<rect x="74.96" y="715.40" width="35.73" height="17.40" fill="#a2adb9"/>
<text x="93.02" y="727.70" font-size="13" text-anchor="middle" fill="#1c1a1a">min</text>
<rect x="112.29" y="715.40" width="35.93" height="17.40" fill="#a2adb9"/>
<text x="129.95" y="727.70" font-size="12.0" text-anchor="middle" fill="#1c1a1a">0.40</text>
<rect x="149.82" y="715.40" width="35.93" height="17.40" fill="#a2adb9"/>
<text x="167.48" y="727.70" font-size="12.0" text-anchor="middle" fill="#1c1a1a">0.15</text>
<rect x="187.35" y="715.40" width="35.93" height="17.40" fill="#a2adb9"/>
<text x="205.01" y="727.70" font-size="12.0" text-anchor="middle" fill="#1c1a1a">0.60</text>
<rect x="224.88" y="715.40" width="35.93" height="17.40" fill="#a2adb9"/>
<text x="242.54" y="727.70" font-size="12.0" text-anchor="middle" fill="#1c1a1a">0.00</text>
<rect x="262.41" y="715.40" width="35.93" height="17.40" fill="#a2adb9"/>
<text x="280.07" y="727.70" font-size="12.0" text-anchor="middle" fill="#1c1a1a">0.00</text>
<rect x="299.94" y="715.40" width="35.93" height="17.40" fill="#a2adb9"/>
<text x="317.60" y="727.70" font-size="12.0" text-anchor="middle" fill="#1c1a1a">1.30</text>
<rect x="337.47" y="715.40" width="35.93" height="17.40" fill="#a2adb9"/>
<text x="355.13" y="727.70" font-size="12.0" text-anchor="middle" fill="#1c1a1a">0.65</text>
<rect x="375.00" y="715.40" width="35.93" height="17.40" fill="#a2adb9"/>
<text x="392.66" y="727.70" font-size="12.0" text-anchor="middle" fill="#1c1a1a">0.25</text>
<rect x="74.96" y="734.40" width="35.73" height="17.20" fill="#a2adb9"/>
<text x="93.02" y="746.70" font-size="13" text-anchor="middle" fill="#1c1a1a">max</text>
<rect x="112.29" y="734.40" width="35.93" height="17.20" fill="#a2adb9"/>
<text x="129.95" y="746.70" font-size="12.0" text-anchor="middle" fill="#1c1a1a">0.50</text>
<rect x="149.82" y="734.40" width="35.93" height="17.20" fill="#a2adb9"/>
<text x="167.48" y="746.70" font-size="12.0" text-anchor="middle" fill="#1c1a1a">0.35</text>
<rect x="187.35" y="734.40" width="35.93" height="17.20" fill="#a2adb9"/>
<text x="205.01" y="746.70" font-size="12.0" text-anchor="middle" fill="#1c1a1a">0.90</text>
<rect x="224.88" y="734.40" width="35.93" height="17.20" fill="#a2adb9"/>
<text x="242.54" y="746.70" font-size="12.0" text-anchor="middle" fill="#1c1a1a">0.03</text>
<rect x="262.41" y="734.40" width="35.93" height="17.20" fill="#a2adb9"/>
<text x="280.07" y="746.70" font-size="12.0" text-anchor="middle" fill="#1c1a1a">0.03</text>
<rect x="299.94" y="734.40" width="35.93" height="17.20" fill="#a2adb9"/>
<text x="317.60" y="746.70" font-size="12.0" text-anchor="middle" fill="#1c1a1a">1.60</text>
<rect x="337.47" y="734.40" width="35.93" height="17.20" fill="#a2adb9"/>
<text x="355.13" y="746.70" font-size="12.0" text-anchor="middle" fill="#1c1a1a">0.85</text>
<rect x="375.00" y="734.40" width="35.93" height="17.20" fill="#a2adb9"/>
<text x="392.66" y="746.70" font-size="12.0" text-anchor="middle" fill="#1c1a1a">0.35</text>
<rect x="412.53" y="677.60" width="35.93" height="18.10" fill="#dad6cc"/>
<rect x="450.06" y="677.60" width="35.93" height="18.10" fill="#dad6cc"/>
<rect x="487.59" y="677.60" width="35.93" height="18.10" fill="#dad6cc"/>
<rect x="525.12" y="677.60" width="35.93" height="18.10" fill="#dad6cc"/>
<rect x="562.65" y="677.60" width="36.50" height="18.10" fill="#dad6cc"/>
<rect x="412.53" y="697.30" width="35.93" height="16.50" fill="#dad6cc"/>
<rect x="450.06" y="697.30" width="35.93" height="16.50" fill="#dad6cc"/>
<rect x="487.59" y="697.30" width="35.93" height="16.50" fill="#dad6cc"/>
<rect x="525.12" y="697.30" width="35.93" height="16.50" fill="#dad6cc"/>
<rect x="562.65" y="697.30" width="36.50" height="16.50" fill="#dad6cc"/>
<rect x="412.53" y="715.40" width="35.93" height="17.40" fill="#dad6cc"/>
<rect x="450.06" y="715.40" width="35.93" height="17.40" fill="#dad6cc"/>
<rect x="487.59" y="715.40" width="35.93" height="17.40" fill="#dad6cc"/>
<rect x="525.12" y="715.40" width="35.93" height="17.40" fill="#dad6cc"/>
<rect x="562.65" y="715.40" width="36.50" height="17.40" fill="#dad6cc"/>
<rect x="412.53" y="734.40" width="35.93" height="17.20" fill="#dad6cc"/>
<rect x="450.06" y="734.40" width="35.93" height="17.20" fill="#dad6cc"/>
<rect x="487.59" y="734.40" width="35.93" height="17.20" fill="#dad6cc"/>
<rect x="525.12" y="734.40" width="35.93" height="17.20" fill="#dad6cc"/>
<rect x="562.65" y="734.40" width="36.50" height="17.20" fill="#dad6cc"/>
<rect x="1.46" y="771.10" width="72.40" height="35.00" fill="#dad6cc"/>
<text transform="translate(36.66 793.95) scale(0.979 1)" font-size="21.6" class="n" text-anchor="middle" fill="#1c1a1a">1.2376</text>
<rect x="74.96" y="769.80" width="148.32" height="16.90" fill="#b2aaa7"/>
<rect x="74.96" y="788.30" width="148.32" height="17.40" fill="#b2aaa7"/>
<text transform="translate(151.92 783.50) scale(0.95 1)" font-size="12.6" font-weight="bold" text-anchor="middle" fill="#1c1a1a">DIN</text>
<text x="151.67" y="800.00" font-size="10" text-anchor="middle" fill="#1c1a1a">X96CrMoV12</text>
<rect x="224.88" y="769.80" width="110.99" height="16.90" fill="#b2aaa7"/>
<rect x="224.88" y="788.30" width="110.99" height="17.40" fill="#b2aaa7"/>
<text transform="translate(280.40 783.50) scale(0.92 1)" font-size="11.6" font-weight="bold" text-anchor="middle" fill="#1c1a1a">Standart</text>
<text x="280.11" y="800.00" font-size="10" text-anchor="middle" fill="#1c1a1a">DIN 17350</text>
<rect x="337.47" y="769.80" width="148.52" height="16.90" fill="#b2aaa7"/>
<rect x="337.47" y="788.30" width="148.52" height="17.40" fill="#b2aaa7"/>
<text transform="translate(414.31 783.50) scale(0.92 1)" font-size="11.6" font-weight="bold" text-anchor="middle" fill="#1c1a1a">Teslimat Sertliği</text>
<text x="412.18" y="800.00" font-size="10" text-anchor="middle" fill="#1c1a1a">max. 250 HB</text>
<rect x="487.59" y="769.80" width="111.56" height="16.90" fill="#b2aaa7"/>
<rect x="487.59" y="788.30" width="111.56" height="17.40" fill="#b2aaa7"/>
<text transform="translate(545.77 783.50) scale(0.92 1)" font-size="11.6" font-weight="bold" text-anchor="middle" fill="#1c1a1a">Isıl İşlem Sonrası</text>
<text x="540.47" y="800.00" font-size="10" text-anchor="middle" fill="#1c1a1a">61-63 HRC</text>
<rect x="74.96" y="807.30" width="335.97" height="18.10" fill="#b2aaa7"/>
<text x="247.24" y="821.30" font-size="13.2" font-weight="bold" text-anchor="middle" fill="#1c1a1a">Kimyasal Değerler</text>
<rect x="74.96" y="827.00" width="35.73" height="16.50" fill="#b2aaa7"/>
<rect x="112.29" y="827.00" width="35.93" height="16.50" fill="#b2aaa7"/>
<text x="129.66" y="838.50" font-size="12.5" text-anchor="middle" fill="#1c1a1a">C</text>
<rect x="149.82" y="827.00" width="35.93" height="16.50" fill="#b2aaa7"/>
<text x="167.19" y="838.50" font-size="12.5" text-anchor="middle" fill="#1c1a1a">Si</text>
<rect x="187.35" y="827.00" width="35.93" height="16.50" fill="#b2aaa7"/>
<text x="204.72" y="838.50" font-size="12.5" text-anchor="middle" fill="#1c1a1a">Mn</text>
<rect x="224.88" y="827.00" width="35.93" height="16.50" fill="#b2aaa7"/>
<text x="242.25" y="838.50" font-size="12.5" text-anchor="middle" fill="#1c1a1a">P</text>
<rect x="262.41" y="827.00" width="35.93" height="16.50" fill="#b2aaa7"/>
<text x="279.77" y="838.50" font-size="12.5" text-anchor="middle" fill="#1c1a1a">S</text>
<rect x="299.94" y="827.00" width="35.93" height="16.50" fill="#b2aaa7"/>
<text x="317.30" y="838.50" font-size="12.5" text-anchor="middle" fill="#1c1a1a">Cr</text>
<rect x="337.47" y="827.00" width="35.93" height="16.50" fill="#b2aaa7"/>
<text x="354.83" y="838.50" font-size="12.5" text-anchor="middle" fill="#1c1a1a">Mo</text>
<rect x="375.00" y="827.00" width="35.93" height="16.50" fill="#b2aaa7"/>
<text x="392.36" y="838.50" font-size="12.5" text-anchor="middle" fill="#1c1a1a">V</text>
<rect x="74.96" y="845.10" width="35.73" height="17.40" fill="#a2adb9"/>
<text x="93.02" y="857.40" font-size="13" text-anchor="middle" fill="#1c1a1a">min</text>
<rect x="112.29" y="845.10" width="35.93" height="17.40" fill="#a2adb9"/>
<text x="129.95" y="857.40" font-size="12.0" text-anchor="middle" fill="#1c1a1a">0.92</text>
<rect x="149.82" y="845.10" width="35.93" height="17.40" fill="#a2adb9"/>
<text x="167.48" y="857.40" font-size="12.0" text-anchor="middle" fill="#1c1a1a">0.20</text>
<rect x="187.35" y="845.10" width="35.93" height="17.40" fill="#a2adb9"/>
<text x="205.01" y="857.40" font-size="12.0" text-anchor="middle" fill="#1c1a1a">0.20</text>
<rect x="224.88" y="845.10" width="35.93" height="17.40" fill="#a2adb9"/>
<text x="242.54" y="857.40" font-size="12.0" text-anchor="middle" fill="#1c1a1a">0.00</text>
<rect x="262.41" y="845.10" width="35.93" height="17.40" fill="#a2adb9"/>
<text x="280.07" y="857.40" font-size="12.0" text-anchor="middle" fill="#1c1a1a">0.00</text>
<rect x="299.94" y="845.10" width="35.93" height="17.40" fill="#a2adb9"/>
<text x="317.60" y="857.40" font-size="12.0" text-anchor="middle" fill="#1c1a1a">11.00</text>
<rect x="337.47" y="845.10" width="35.93" height="17.40" fill="#a2adb9"/>
<text x="355.13" y="857.40" font-size="12.0" text-anchor="middle" fill="#1c1a1a">0.80</text>
<rect x="375.00" y="845.10" width="35.93" height="17.40" fill="#a2adb9"/>
<text x="392.66" y="857.40" font-size="12.0" text-anchor="middle" fill="#1c1a1a">0.80</text>
<rect x="74.96" y="864.10" width="35.73" height="17.20" fill="#a2adb9"/>
<text x="93.02" y="876.40" font-size="13" text-anchor="middle" fill="#1c1a1a">max</text>
<rect x="112.29" y="864.10" width="35.93" height="17.20" fill="#a2adb9"/>
<text x="129.95" y="876.40" font-size="12.0" text-anchor="middle" fill="#1c1a1a">1.00</text>
<rect x="149.82" y="864.10" width="35.93" height="17.20" fill="#a2adb9"/>
<text x="167.48" y="876.40" font-size="12.0" text-anchor="middle" fill="#1c1a1a">0.40</text>
<rect x="187.35" y="864.10" width="35.93" height="17.20" fill="#a2adb9"/>
<text x="205.01" y="876.40" font-size="12.0" text-anchor="middle" fill="#1c1a1a">0.40</text>
<rect x="224.88" y="864.10" width="35.93" height="17.20" fill="#a2adb9"/>
<text x="242.54" y="876.40" font-size="12.0" text-anchor="middle" fill="#1c1a1a">0.03</text>
<rect x="262.41" y="864.10" width="35.93" height="17.20" fill="#a2adb9"/>
<text x="280.07" y="876.40" font-size="12.0" text-anchor="middle" fill="#1c1a1a">0.03</text>
<rect x="299.94" y="864.10" width="35.93" height="17.20" fill="#a2adb9"/>
<text x="317.60" y="876.40" font-size="12.0" text-anchor="middle" fill="#1c1a1a">12.00</text>
<rect x="337.47" y="864.10" width="35.93" height="17.20" fill="#a2adb9"/>
<text x="355.13" y="876.40" font-size="12.0" text-anchor="middle" fill="#1c1a1a">1.00</text>
<rect x="375.00" y="864.10" width="35.93" height="17.20" fill="#a2adb9"/>
<text x="392.66" y="876.40" font-size="12.0" text-anchor="middle" fill="#1c1a1a">1.00</text>
<rect x="412.53" y="807.30" width="35.93" height="18.10" fill="#dad6cc"/>
<rect x="450.06" y="807.30" width="35.93" height="18.10" fill="#dad6cc"/>
<rect x="487.59" y="807.30" width="35.93" height="18.10" fill="#dad6cc"/>
<rect x="525.12" y="807.30" width="35.93" height="18.10" fill="#dad6cc"/>
<rect x="562.65" y="807.30" width="36.50" height="18.10" fill="#dad6cc"/>
<rect x="412.53" y="827.00" width="35.93" height="16.50" fill="#dad6cc"/>
<rect x="450.06" y="827.00" width="35.93" height="16.50" fill="#dad6cc"/>
<rect x="487.59" y="827.00" width="35.93" height="16.50" fill="#dad6cc"/>
<rect x="525.12" y="827.00" width="35.93" height="16.50" fill="#dad6cc"/>
<rect x="562.65" y="827.00" width="36.50" height="16.50" fill="#dad6cc"/>
<rect x="412.53" y="845.10" width="35.93" height="17.40" fill="#dad6cc"/>
<rect x="450.06" y="845.10" width="35.93" height="17.40" fill="#dad6cc"/>
<rect x="487.59" y="845.10" width="35.93" height="17.40" fill="#dad6cc"/>
<rect x="525.12" y="845.10" width="35.93" height="17.40" fill="#dad6cc"/>
<rect x="562.65" y="845.10" width="36.50" height="17.40" fill="#dad6cc"/>
<rect x="412.53" y="864.10" width="35.93" height="17.20" fill="#dad6cc"/>
<rect x="450.06" y="864.10" width="35.93" height="17.20" fill="#dad6cc"/>
<rect x="487.59" y="864.10" width="35.93" height="17.20" fill="#dad6cc"/>
<rect x="525.12" y="864.10" width="35.93" height="17.20" fill="#dad6cc"/>
<rect x="562.65" y="864.10" width="36.50" height="17.20" fill="#dad6cc"/>
<rect x="1.46" y="902.30" width="72.40" height="35.00" fill="#dad6cc"/>
<text transform="translate(36.66 925.15) scale(0.979 1)" font-size="21.6" class="n" text-anchor="middle" fill="#1c1a1a">1.2519</text>
<rect x="74.96" y="901.00" width="148.32" height="16.90" fill="#b2aaa7"/>
<rect x="74.96" y="919.50" width="148.32" height="17.40" fill="#b2aaa7"/>
<text transform="translate(151.92 914.70) scale(0.95 1)" font-size="12.6" font-weight="bold" text-anchor="middle" fill="#1c1a1a">DIN</text>
<text x="151.67" y="931.20" font-size="10" text-anchor="middle" fill="#1c1a1a">110WCrV5</text>
<rect x="224.88" y="901.00" width="110.99" height="16.90" fill="#b2aaa7"/>
<rect x="224.88" y="919.50" width="110.99" height="17.40" fill="#b2aaa7"/>
<text transform="translate(280.40 914.70) scale(0.92 1)" font-size="11.6" font-weight="bold" text-anchor="middle" fill="#1c1a1a">Standart</text>
<text x="280.11" y="931.20" font-size="10" text-anchor="middle" fill="#1c1a1a">DIN 17350</text>
<rect x="337.47" y="901.00" width="148.52" height="16.90" fill="#b2aaa7"/>
<rect x="337.47" y="919.50" width="148.52" height="17.40" fill="#b2aaa7"/>
<text transform="translate(414.31 914.70) scale(0.92 1)" font-size="11.6" font-weight="bold" text-anchor="middle" fill="#1c1a1a">Teslimat Sertliği</text>
<text x="412.18" y="931.20" font-size="10" text-anchor="middle" fill="#1c1a1a">max. 225 HB</text>
<rect x="487.59" y="901.00" width="111.56" height="16.90" fill="#b2aaa7"/>
<rect x="487.59" y="919.50" width="111.56" height="17.40" fill="#b2aaa7"/>
<text transform="translate(545.77 914.70) scale(0.92 1)" font-size="11.6" font-weight="bold" text-anchor="middle" fill="#1c1a1a">Isıl İşlem Sonrası</text>
<text x="540.47" y="931.20" font-size="10" text-anchor="middle" fill="#1c1a1a">62-64 HRC</text>
<rect x="74.96" y="938.50" width="335.97" height="18.10" fill="#b2aaa7"/>
<text x="247.24" y="952.50" font-size="13.2" font-weight="bold" text-anchor="middle" fill="#1c1a1a">Kimyasal Değerler</text>
<rect x="74.96" y="958.20" width="35.73" height="16.50" fill="#b2aaa7"/>
<rect x="112.29" y="958.20" width="35.93" height="16.50" fill="#b2aaa7"/>
<text x="129.66" y="969.70" font-size="12.5" text-anchor="middle" fill="#1c1a1a">C</text>
<rect x="149.82" y="958.20" width="35.93" height="16.50" fill="#b2aaa7"/>
<text x="167.19" y="969.70" font-size="12.5" text-anchor="middle" fill="#1c1a1a">Si</text>
<rect x="187.35" y="958.20" width="35.93" height="16.50" fill="#b2aaa7"/>
<text x="204.72" y="969.70" font-size="12.5" text-anchor="middle" fill="#1c1a1a">Mn</text>
<rect x="224.88" y="958.20" width="35.93" height="16.50" fill="#b2aaa7"/>
<text x="242.25" y="969.70" font-size="12.5" text-anchor="middle" fill="#1c1a1a">P</text>
<rect x="262.41" y="958.20" width="35.93" height="16.50" fill="#b2aaa7"/>
<text x="279.77" y="969.70" font-size="12.5" text-anchor="middle" fill="#1c1a1a">S</text>
<rect x="299.94" y="958.20" width="35.93" height="16.50" fill="#b2aaa7"/>
<text x="317.30" y="969.70" font-size="12.5" text-anchor="middle" fill="#1c1a1a">Cr</text>
<rect x="337.47" y="958.20" width="35.93" height="16.50" fill="#b2aaa7"/>
<text x="354.83" y="969.70" font-size="12.5" text-anchor="middle" fill="#1c1a1a">Mo</text>
<rect x="375.00" y="958.20" width="35.93" height="16.50" fill="#b2aaa7"/>
<text x="392.36" y="969.70" font-size="12.5" text-anchor="middle" fill="#1c1a1a">V</text>
<rect x="74.96" y="976.30" width="35.73" height="17.40" fill="#a2adb9"/>
<text x="93.02" y="988.60" font-size="13" text-anchor="middle" fill="#1c1a1a">min</text>
<rect x="112.29" y="976.30" width="35.93" height="17.40" fill="#a2adb9"/>
<text x="129.95" y="988.60" font-size="12.0" text-anchor="middle" fill="#1c1a1a">1.05</text>
<rect x="149.82" y="976.30" width="35.93" height="17.40" fill="#a2adb9"/>
<text x="167.48" y="988.60" font-size="12.0" text-anchor="middle" fill="#1c1a1a">0.15</text>
<rect x="187.35" y="976.30" width="35.93" height="17.40" fill="#a2adb9"/>
<text x="205.01" y="988.60" font-size="12.0" text-anchor="middle" fill="#1c1a1a">0.20</text>
<rect x="224.88" y="976.30" width="35.93" height="17.40" fill="#a2adb9"/>
<text x="242.54" y="988.60" font-size="12.0" text-anchor="middle" fill="#1c1a1a">0.00</text>
<rect x="262.41" y="976.30" width="35.93" height="17.40" fill="#a2adb9"/>
<text x="280.07" y="988.60" font-size="12.0" text-anchor="middle" fill="#1c1a1a">0.00</text>
<rect x="299.94" y="976.30" width="35.93" height="17.40" fill="#a2adb9"/>
<text x="317.60" y="988.60" font-size="12.0" text-anchor="middle" fill="#1c1a1a">1.10</text>
<rect x="337.47" y="976.30" width="35.93" height="17.40" fill="#a2adb9"/>
<text x="355.13" y="988.60" font-size="12.0" text-anchor="middle" fill="#1c1a1a">0.15</text>
<rect x="375.00" y="976.30" width="35.93" height="17.40" fill="#a2adb9"/>
<text x="392.66" y="988.60" font-size="12.0" text-anchor="middle" fill="#1c1a1a">1.20</text>
<rect x="74.96" y="995.30" width="35.73" height="17.20" fill="#a2adb9"/>
<text x="93.02" y="1007.60" font-size="13" text-anchor="middle" fill="#1c1a1a">max</text>
<rect x="112.29" y="995.30" width="35.93" height="17.20" fill="#a2adb9"/>
<text x="129.95" y="1007.60" font-size="12.0" text-anchor="middle" fill="#1c1a1a">1.15</text>
<rect x="149.82" y="995.30" width="35.93" height="17.20" fill="#a2adb9"/>
<text x="167.48" y="1007.60" font-size="12.0" text-anchor="middle" fill="#1c1a1a">0.30</text>
<rect x="187.35" y="995.30" width="35.93" height="17.20" fill="#a2adb9"/>
<text x="205.01" y="1007.60" font-size="12.0" text-anchor="middle" fill="#1c1a1a">0.40</text>
<rect x="224.88" y="995.30" width="35.93" height="17.20" fill="#a2adb9"/>
<text x="242.54" y="1007.60" font-size="12.0" text-anchor="middle" fill="#1c1a1a">0.03</text>
<rect x="262.41" y="995.30" width="35.93" height="17.20" fill="#a2adb9"/>
<text x="280.07" y="1007.60" font-size="12.0" text-anchor="middle" fill="#1c1a1a">0.03</text>
<rect x="299.94" y="995.30" width="35.93" height="17.20" fill="#a2adb9"/>
<text x="317.60" y="1007.60" font-size="12.0" text-anchor="middle" fill="#1c1a1a">1.30</text>
<rect x="337.47" y="995.30" width="35.93" height="17.20" fill="#a2adb9"/>
<text x="355.13" y="1007.60" font-size="12.0" text-anchor="middle" fill="#1c1a1a">0.25</text>
<rect x="375.00" y="995.30" width="35.93" height="17.20" fill="#a2adb9"/>
<text x="392.66" y="1007.60" font-size="12.0" text-anchor="middle" fill="#1c1a1a">1.40</text>
<rect x="412.53" y="938.50" width="35.93" height="18.10" fill="#dad6cc"/>
<rect x="450.06" y="938.50" width="35.93" height="18.10" fill="#dad6cc"/>
<rect x="487.59" y="938.50" width="35.93" height="18.10" fill="#dad6cc"/>
<rect x="525.12" y="938.50" width="35.93" height="18.10" fill="#dad6cc"/>
<rect x="562.65" y="938.50" width="36.50" height="18.10" fill="#dad6cc"/>
<rect x="412.53" y="958.20" width="35.93" height="16.50" fill="#dad6cc"/>
<rect x="450.06" y="958.20" width="35.93" height="16.50" fill="#dad6cc"/>
<rect x="487.59" y="958.20" width="35.93" height="16.50" fill="#dad6cc"/>
<rect x="525.12" y="958.20" width="35.93" height="16.50" fill="#dad6cc"/>
<rect x="562.65" y="958.20" width="36.50" height="16.50" fill="#dad6cc"/>
<rect x="412.53" y="976.30" width="35.93" height="17.40" fill="#dad6cc"/>
<rect x="450.06" y="976.30" width="35.93" height="17.40" fill="#dad6cc"/>
<rect x="487.59" y="976.30" width="35.93" height="17.40" fill="#dad6cc"/>
<rect x="525.12" y="976.30" width="35.93" height="17.40" fill="#dad6cc"/>
<rect x="562.65" y="976.30" width="36.50" height="17.40" fill="#dad6cc"/>
<rect x="412.53" y="995.30" width="35.93" height="17.20" fill="#dad6cc"/>
<rect x="450.06" y="995.30" width="35.93" height="17.20" fill="#dad6cc"/>
<rect x="487.59" y="995.30" width="35.93" height="17.20" fill="#dad6cc"/>
<rect x="525.12" y="995.30" width="35.93" height="17.20" fill="#dad6cc"/>
<rect x="562.65" y="995.30" width="36.50" height="17.20" fill="#dad6cc"/>
<rect x="1.46" y="1032.00" width="72.40" height="35.00" fill="#dad6cc"/>
<text transform="translate(36.66 1054.85) scale(0.979 1)" font-size="21.6" class="n" text-anchor="middle" fill="#1c1a1a">1.2826</text>
<rect x="74.96" y="1030.70" width="148.32" height="16.90" fill="#b2aaa7"/>
<rect x="74.96" y="1049.20" width="148.32" height="17.40" fill="#b2aaa7"/>
<text transform="translate(151.92 1044.40) scale(0.95 1)" font-size="12.6" font-weight="bold" text-anchor="middle" fill="#1c1a1a">DIN</text>
<text x="151.67" y="1060.90" font-size="10" text-anchor="middle" fill="#1c1a1a">60MnSiCr4</text>
<rect x="224.88" y="1030.70" width="110.99" height="16.90" fill="#b2aaa7"/>
<rect x="224.88" y="1049.20" width="110.99" height="17.40" fill="#b2aaa7"/>
<text transform="translate(280.40 1044.40) scale(0.92 1)" font-size="11.6" font-weight="bold" text-anchor="middle" fill="#1c1a1a">Standart</text>
<text x="280.11" y="1060.90" font-size="10" text-anchor="middle" fill="#1c1a1a">DIN 17350</text>
<rect x="337.47" y="1030.70" width="148.52" height="16.90" fill="#b2aaa7"/>
<rect x="337.47" y="1049.20" width="148.52" height="17.40" fill="#b2aaa7"/>
<text transform="translate(414.31 1044.40) scale(0.92 1)" font-size="11.6" font-weight="bold" text-anchor="middle" fill="#1c1a1a">Teslimat Sertliği</text>
<text x="412.18" y="1060.90" font-size="10" text-anchor="middle" fill="#1c1a1a">max. 220 HB</text>
<rect x="487.59" y="1030.70" width="111.56" height="16.90" fill="#b2aaa7"/>
<rect x="487.59" y="1049.20" width="111.56" height="17.40" fill="#b2aaa7"/>
<text transform="translate(545.77 1044.40) scale(0.92 1)" font-size="11.6" font-weight="bold" text-anchor="middle" fill="#1c1a1a">Isıl İşlem Sonrası</text>
<text x="540.47" y="1060.90" font-size="10" text-anchor="middle" fill="#1c1a1a">57-60 HRC</text>
<rect x="74.96" y="1068.20" width="260.91" height="18.10" fill="#b2aaa7"/>
<text x="208.81" y="1082.20" font-size="13.2" font-weight="bold" text-anchor="middle" fill="#1c1a1a">Kimyasal Değerler</text>
<rect x="74.96" y="1087.90" width="35.73" height="16.50" fill="#b2aaa7"/>
<rect x="112.29" y="1087.90" width="35.93" height="16.50" fill="#b2aaa7"/>
<text x="129.66" y="1099.40" font-size="12.5" text-anchor="middle" fill="#1c1a1a">C</text>
<rect x="149.82" y="1087.90" width="35.93" height="16.50" fill="#b2aaa7"/>
<text x="167.19" y="1099.40" font-size="12.5" text-anchor="middle" fill="#1c1a1a">Si</text>
<rect x="187.35" y="1087.90" width="35.93" height="16.50" fill="#b2aaa7"/>
<text x="204.72" y="1099.40" font-size="12.5" text-anchor="middle" fill="#1c1a1a">Mn</text>
<rect x="224.88" y="1087.90" width="35.93" height="16.50" fill="#b2aaa7"/>
<text x="242.25" y="1099.40" font-size="12.5" text-anchor="middle" fill="#1c1a1a">P</text>
<rect x="262.41" y="1087.90" width="35.93" height="16.50" fill="#b2aaa7"/>
<text x="279.77" y="1099.40" font-size="12.5" text-anchor="middle" fill="#1c1a1a">S</text>
<rect x="299.94" y="1087.90" width="35.93" height="16.50" fill="#b2aaa7"/>
<text x="317.30" y="1099.40" font-size="12.5" text-anchor="middle" fill="#1c1a1a">Cr</text>
<rect x="74.96" y="1106.00" width="35.73" height="17.40" fill="#a2adb9"/>
<text x="93.02" y="1118.30" font-size="13" text-anchor="middle" fill="#1c1a1a">min</text>
<rect x="112.29" y="1106.00" width="35.93" height="17.40" fill="#a2adb9"/>
<text x="129.95" y="1118.30" font-size="12.0" text-anchor="middle" fill="#1c1a1a">0.58</text>
<rect x="149.82" y="1106.00" width="35.93" height="17.40" fill="#a2adb9"/>
<text x="167.48" y="1118.30" font-size="12.0" text-anchor="middle" fill="#1c1a1a">0.80</text>
<rect x="187.35" y="1106.00" width="35.93" height="17.40" fill="#a2adb9"/>
<text x="205.01" y="1118.30" font-size="12.0" text-anchor="middle" fill="#1c1a1a">0.80</text>
<rect x="224.88" y="1106.00" width="35.93" height="17.40" fill="#a2adb9"/>
<text x="242.54" y="1118.30" font-size="12.0" text-anchor="middle" fill="#1c1a1a">0.00</text>
<rect x="262.41" y="1106.00" width="35.93" height="17.40" fill="#a2adb9"/>
<text x="280.07" y="1118.30" font-size="12.0" text-anchor="middle" fill="#1c1a1a">0.00</text>
<rect x="299.94" y="1106.00" width="35.93" height="17.40" fill="#a2adb9"/>
<text x="317.60" y="1118.30" font-size="12.0" text-anchor="middle" fill="#1c1a1a">0.20</text>
<rect x="74.96" y="1125.00" width="35.73" height="17.20" fill="#a2adb9"/>
<text x="93.02" y="1137.30" font-size="13" text-anchor="middle" fill="#1c1a1a">max</text>
<rect x="112.29" y="1125.00" width="35.93" height="17.20" fill="#a2adb9"/>
<text x="129.95" y="1137.30" font-size="12.0" text-anchor="middle" fill="#1c1a1a">0.65</text>
<rect x="149.82" y="1125.00" width="35.93" height="17.20" fill="#a2adb9"/>
<text x="167.48" y="1137.30" font-size="12.0" text-anchor="middle" fill="#1c1a1a">1.00</text>
<rect x="187.35" y="1125.00" width="35.93" height="17.20" fill="#a2adb9"/>
<text x="205.01" y="1137.30" font-size="12.0" text-anchor="middle" fill="#1c1a1a">1.20</text>
<rect x="224.88" y="1125.00" width="35.93" height="17.20" fill="#a2adb9"/>
<text x="242.54" y="1137.30" font-size="12.0" text-anchor="middle" fill="#1c1a1a">0.03</text>
<rect x="262.41" y="1125.00" width="35.93" height="17.20" fill="#a2adb9"/>
<text x="280.07" y="1137.30" font-size="12.0" text-anchor="middle" fill="#1c1a1a">0.03</text>
<rect x="299.94" y="1125.00" width="35.93" height="17.20" fill="#a2adb9"/>
<text x="317.60" y="1137.30" font-size="12.0" text-anchor="middle" fill="#1c1a1a">0.40</text>
<rect x="337.47" y="1068.20" width="35.93" height="18.10" fill="#dad6cc"/>
<rect x="375.00" y="1068.20" width="35.93" height="18.10" fill="#dad6cc"/>
<rect x="412.53" y="1068.20" width="35.93" height="18.10" fill="#dad6cc"/>
<rect x="450.06" y="1068.20" width="35.93" height="18.10" fill="#dad6cc"/>
<rect x="487.59" y="1068.20" width="35.93" height="18.10" fill="#dad6cc"/>
<rect x="525.12" y="1068.20" width="35.93" height="18.10" fill="#dad6cc"/>
<rect x="562.65" y="1068.20" width="36.50" height="18.10" fill="#dad6cc"/>
<rect x="337.47" y="1087.90" width="35.93" height="16.50" fill="#dad6cc"/>
<rect x="375.00" y="1087.90" width="35.93" height="16.50" fill="#dad6cc"/>
<rect x="412.53" y="1087.90" width="35.93" height="16.50" fill="#dad6cc"/>
<rect x="450.06" y="1087.90" width="35.93" height="16.50" fill="#dad6cc"/>
<rect x="487.59" y="1087.90" width="35.93" height="16.50" fill="#dad6cc"/>
<rect x="525.12" y="1087.90" width="35.93" height="16.50" fill="#dad6cc"/>
<rect x="562.65" y="1087.90" width="36.50" height="16.50" fill="#dad6cc"/>
<rect x="337.47" y="1106.00" width="35.93" height="17.40" fill="#dad6cc"/>
<rect x="375.00" y="1106.00" width="35.93" height="17.40" fill="#dad6cc"/>
<rect x="412.53" y="1106.00" width="35.93" height="17.40" fill="#dad6cc"/>
<rect x="450.06" y="1106.00" width="35.93" height="17.40" fill="#dad6cc"/>
<rect x="487.59" y="1106.00" width="35.93" height="17.40" fill="#dad6cc"/>
<rect x="525.12" y="1106.00" width="35.93" height="17.40" fill="#dad6cc"/>
<rect x="562.65" y="1106.00" width="36.50" height="17.40" fill="#dad6cc"/>
<rect x="337.47" y="1125.00" width="35.93" height="17.20" fill="#dad6cc"/>
<rect x="375.00" y="1125.00" width="35.93" height="17.20" fill="#dad6cc"/>
<rect x="412.53" y="1125.00" width="35.93" height="17.20" fill="#dad6cc"/>
<rect x="450.06" y="1125.00" width="35.93" height="17.20" fill="#dad6cc"/>
<rect x="487.59" y="1125.00" width="35.93" height="17.20" fill="#dad6cc"/>
<rect x="525.12" y="1125.00" width="35.93" height="17.20" fill="#dad6cc"/>
<rect x="562.65" y="1125.00" width="36.50" height="17.20" fill="#dad6cc"/>
</svg>
</body></html>
